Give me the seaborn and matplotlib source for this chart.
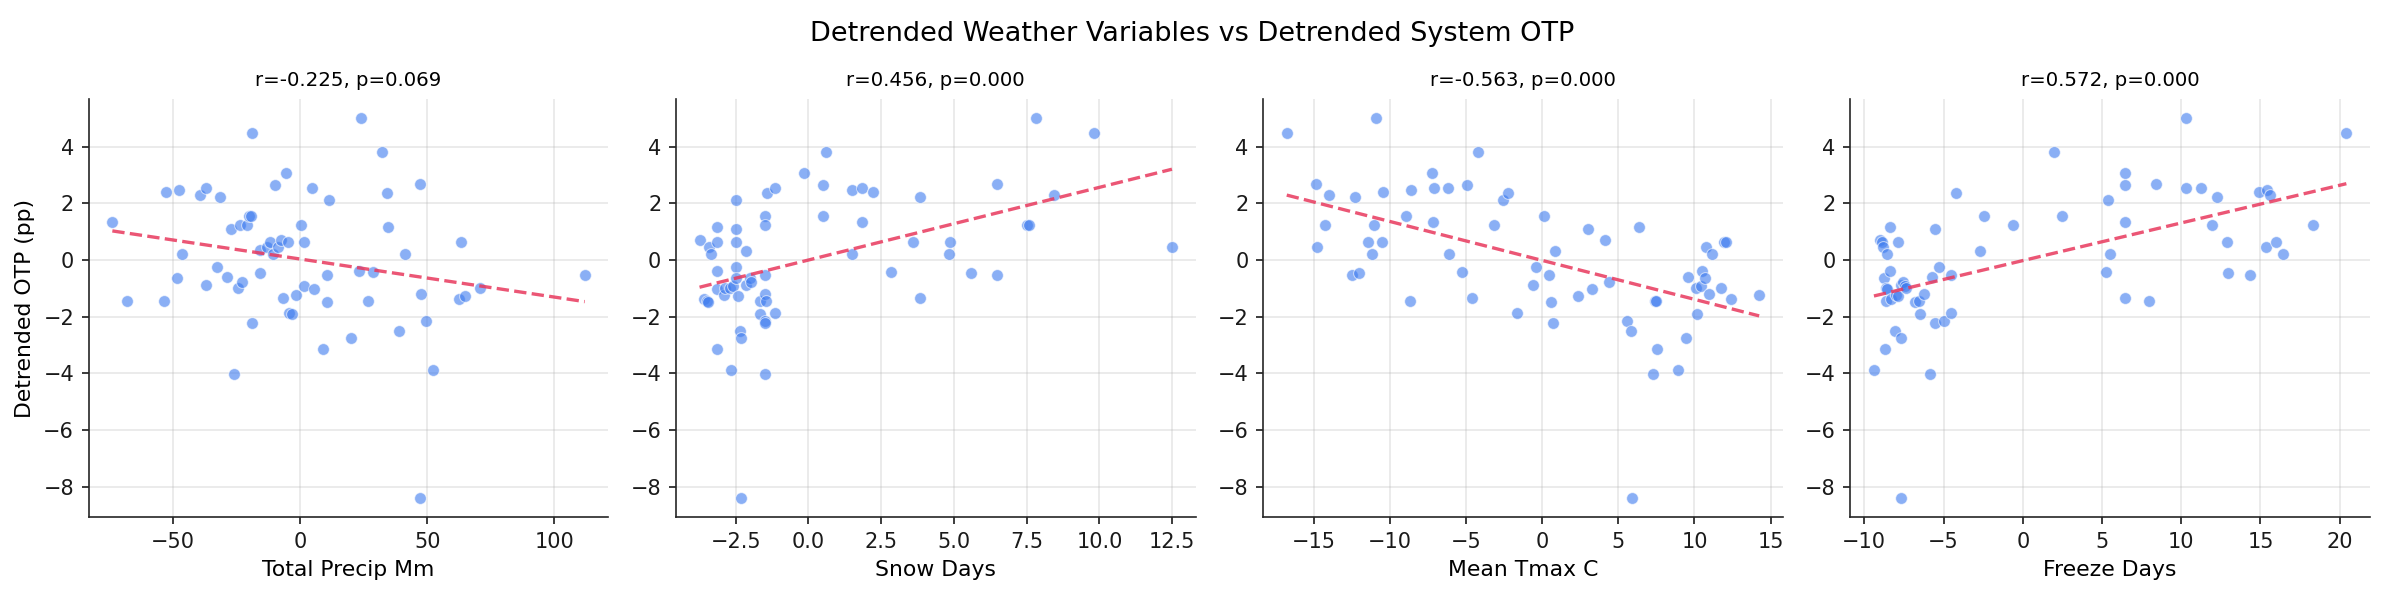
import numpy as np
import pandas as pd
import matplotlib
matplotlib.use("Agg")
import matplotlib.pyplot as plt
import seaborn as sns

# ---- data (detrended values) ----
precip_x = [-73.8, -68.2, -53.6, -52.6, -47.5, -46.6, -48.2, -39.2, -37.1, -36.8,
            -31.4, -32.5, -28.6, -27.3, -24.6, -22.7, -23.6, -21.0, -20.1, -19.1,
            -18.8, -18.8, -26.1, -15.9, -15.9, -13.1, -11.7, -10.8, -9.8, -8.7,
            -7.4, -5.4, -4.8, -6.9, -4.4, -3.0, -1.5, 0.5, 1.7, 1.7,
            4.8, 5.6, 9.2, 10.7, 10.7, 11.4, 20.1, 23.1, 23.9, 26.7,
            28.7, 32.2, 34.3, 34.7, 38.9, 41.3, 47.2, 47.6, 49.6, 52.3,
            62.5, 63.4, 64.8, 70.8, 111.9, 47.0]
precip_y = [1.33, -1.43, -1.43, 2.39, 2.46, 0.20, -0.63, 2.28, 2.54, -0.88,
            2.22, -0.24, -0.59, 1.11, -0.98, -0.76, 1.22, 1.22, 1.54, 1.54,
            4.49, -2.22, -4.04, 0.37, -0.45, 0.46, 0.65, 0.20, 2.64, 0.45,
            0.70, 3.07, 0.65, -1.34, -1.87, -1.91, -1.23, 1.22, 0.62, -0.91,
            2.54, -1.02, -3.15, -0.52, -1.48, 2.11, -2.75, -0.38, 5.02, -1.43,
            -0.41, 3.81, 2.36, 1.18, -2.51, 0.20, 2.69, -1.20, -2.15, -3.89,
            -1.37, 0.62, -1.27, -0.98, -0.52, -8.40]

snow_x = [-3.74, -3.43, -3.33, -3.14, -3.14, -3.14, -3.14, -3.14, -3.58, -3.47,
          -3.44, -2.91, -2.86, -2.68, -2.59, -2.66, -2.50, -2.50, -2.50, -2.50,
          -2.50, -2.43, -2.36, -2.33, -2.16, -2.16, -1.99, -1.97, -1.67, -1.67,
          -1.50, -1.50, -1.50, -1.50, -1.45, -1.50, -1.50, -1.50, -1.43, -1.16,
          -1.16, -0.16, 0.50, 0.50, 0.61, 1.49, 1.49, 1.84, 1.84, 2.22,
          2.84, 3.59, 3.83, 3.83, 4.84, 4.86, 5.58, 6.49, 6.49, 7.51,
          7.58, 7.82, 8.43, 9.82, 12.49, -2.30]
snow_y = [0.69, 0.45, 0.20, 1.18, 0.62, -0.38, -1.02, -3.15, -1.37, -1.43,
          -1.48, -1.23, -0.98, -0.98, -0.91, -3.89, 2.11, 1.11, 0.62, -0.24,
          -0.63, -1.27, -2.51, -2.75, 0.33, -0.88, -0.63, -0.76, -1.43, -1.91,
          1.54, 1.22, -0.52, -1.20, -1.43, -2.15, -2.22, -4.04, 2.36, 2.54,
          -1.87, 3.07, 2.64, 1.54, 3.81, 2.46, 0.20, 2.54, 1.33, 2.39,
          -0.41, 0.62, 2.22, -1.34, 0.20, 0.65, -0.45, 2.69, -0.52, 1.22,
          1.22, 5.02, 2.28, 4.49, 0.45, -8.40]

tmax_x = [-16.79, -14.90, -14.82, -14.30, -14.02, -12.53, -12.33, -12.01, -11.48, -11.20,
          -11.08, -10.95, -10.55, -10.47, -8.96, -8.71, -8.63, -7.27, -7.20, -7.12,
          -6.19, -6.14, -5.29, -4.96, -4.63, -4.23, -3.20, -2.59, -2.27, -1.69,
          -0.60, -0.43, 0.10, 0.43, 0.55, 0.68, 0.83, 2.34, 3.00, 3.25,
          4.10, 4.38, 5.56, 5.84, 6.37, 7.27, 7.40, 7.50, 7.55, 8.91,
          9.44, 9.56, 10.09, 10.17, 10.42, 10.50, 10.70, 10.77, 10.95, 11.15,
          11.73, 11.91, 12.08, 12.38, 14.25, 5.90]
tmax_y = [4.49, 2.69, 0.45, 1.22, 2.28, -0.52, 2.22, -0.45, 0.65, 0.20,
          1.22, 5.02, 0.62, 2.39, 1.54, -1.43, 2.46, 3.07, 1.33, 2.54,
          2.54, 0.20, -0.41, 2.64, -1.34, 3.81, 1.22, 2.11, 2.36, -1.87,
          -0.88, -0.24, 1.54, -0.52, -1.48, -2.22, 0.33, -1.27, 1.11, -1.02,
          0.69, -0.76, -2.15, -2.51, 1.18, -4.04, -1.43, -1.43, -3.15, -3.89,
          -2.75, -0.59, -0.98, -1.91, -0.91, -0.38, -0.63, 0.45, -1.20, 0.20,
          -0.98, 0.62, 0.62, -1.37, -1.23, -8.40]

freeze_x = [-9.39, -9.02, -8.90, -8.80, -8.77, -8.70, -8.65, -8.60, -8.55, -8.57,
            -8.37, -8.37, -8.30, -8.08, -8.00, -7.88, -7.88, -7.68, -7.68, -7.56,
            -7.43, -7.36, -6.81, -6.54, -6.49, -6.22, -5.85, -5.72, -5.55, -5.55,
            -5.28, -4.96, -4.53, -4.53, -4.21, -2.70, -2.45, -0.62, 1.98, 2.48,
            5.25, 5.40, 5.48, 6.47, 6.47, 6.47, 6.47, 7.98, 8.42, 10.33,
            10.33, 11.27, 11.97, 12.26, 12.91, 12.96, 14.37, 14.92, 15.36, 15.44,
            15.63, 15.96, 16.45, 18.33, 20.42, -7.70]
freeze_y = [-3.89, 0.69, 0.65, 0.45, -0.63, -3.15, -1.43, -0.98, -1.02, 0.20,
            1.18, -0.38, -1.37, -2.51, -1.23, -1.27, 0.62, -2.75, -0.88, -0.76,
            -0.91, -0.98, -1.48, -1.43, -1.91, -1.20, -4.04, -0.59, 1.11, -2.22,
            -0.24, -2.15, -0.52, -1.87, 2.36, 0.33, 1.54, 1.22, 3.81, 1.54,
            -0.41, 2.11, 0.20, 3.07, 2.64, 1.33, -1.34, -1.43, 2.69, 5.02,
            2.54, 2.54, 1.22, 2.22, 0.65, -0.45, -0.52, 2.39, 0.45, 2.46,
            2.28, 0.62, 0.20, 1.22, 4.49, -8.40]

x_labels = ["Total Precip Mm", "Snow Days", "Mean Tmax C", "Freeze Days"]
panel_titles = ["r=-0.225, p=0.069", "r=0.456, p=0.000",
                "r=-0.563, p=0.000", "r=0.572, p=0.000"]
suptitle = "Detrended Weather Variables vs Detrended System OTP"
y_label = "Detrended OTP (pp)"

panels = [(precip_x, precip_y), (snow_x, snow_y), (tmax_x, tmax_y), (freeze_x, freeze_y)]

sns.set_style("ticks", rc={"text.color": "black", "axes.labelcolor": "black",
                           "xtick.color": "#1a1a1a", "ytick.color": "#1a1a1a",
                           "axes.edgecolor": "#262626"})
plt.rcParams["font.family"] = ["DejaVu Sans"]

fig, axes = plt.subplots(1, 4, figsize=(15.9, 3.967), dpi=150)
fig.subplots_adjust(left=0.0372, right=0.9937, bottom=0.131, top=0.834, wspace=0.13)

point_color = "#3d7bef"
line_color = "#e8385d"

for ax, (xs, ys), xl, tt in zip(axes, panels, x_labels, panel_titles):
    df = pd.DataFrame({"x": xs, "y": ys})
    ax.grid(True, color="#b0b0b0", alpha=0.3, linewidth=0.8)
    ax.set_axisbelow(True)
    sns.scatterplot(data=df, x="x", y="y", ax=ax, color=point_color, alpha=0.6,
                    s=32, edgecolor="white", linewidth=0.5, zorder=3)
    sns.regplot(data=df, x="x", y="y", ax=ax, scatter=False, ci=None, truncate=True,
                line_kws=dict(color=line_color, linestyle="--", linewidth=1.6, alpha=0.85, zorder=4))
    ax.set_xlabel(xl, fontsize=10.5)
    ax.set_ylabel("")
    ax.set_title(tt, fontsize=9.5)
    ax.tick_params(labelsize=10)
    sns.despine(ax=ax)

axes[0].set_ylabel(y_label, fontsize=10.5)
fig.suptitle(suptitle, fontsize=13, y=0.965)

fig.savefig("out.png", dpi=150)
